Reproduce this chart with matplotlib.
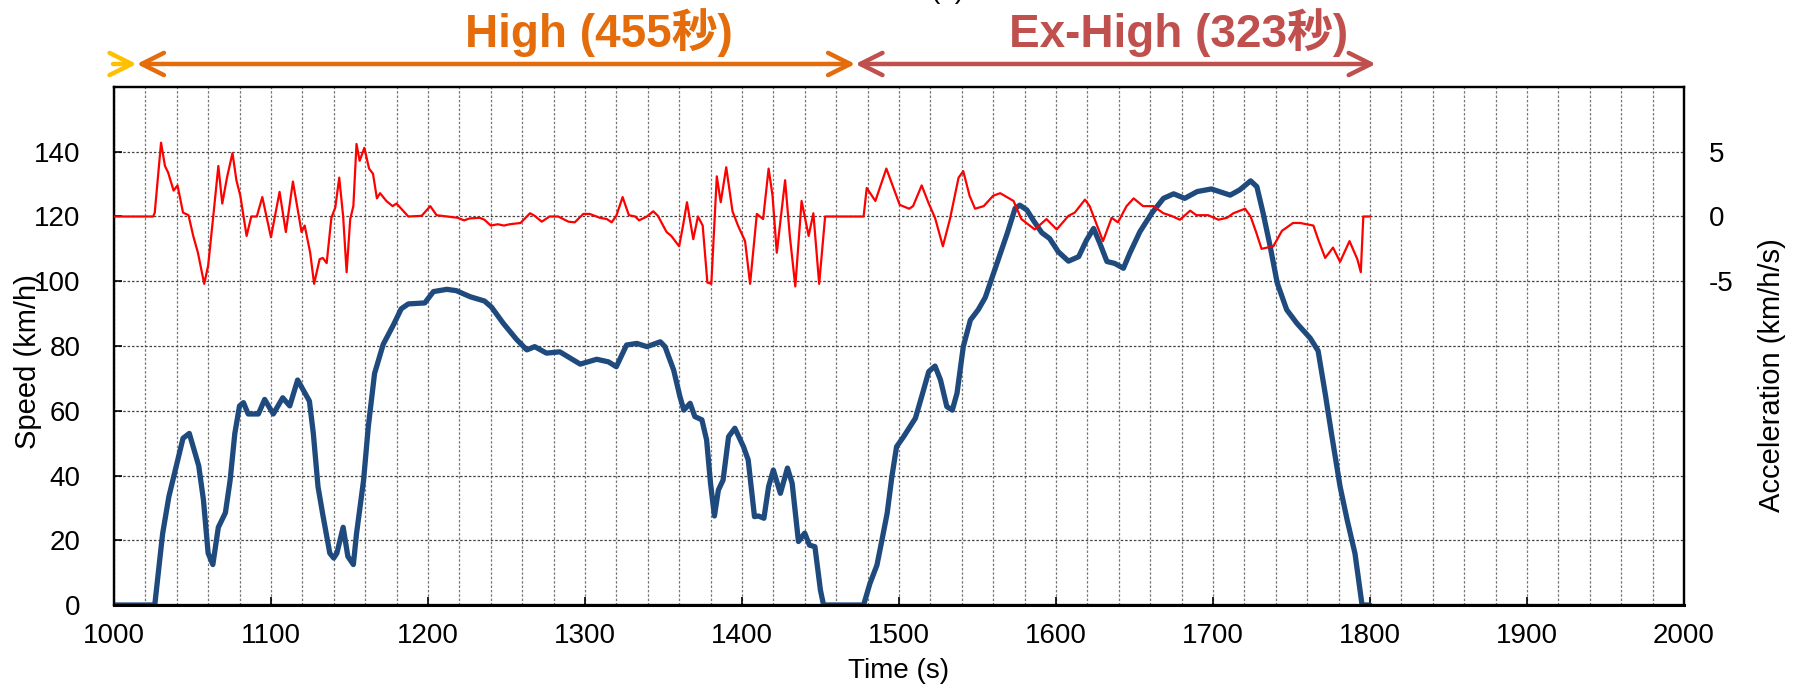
import numpy as np
import matplotlib
matplotlib.use("Agg")
import matplotlib.pyplot as plt

plt.rcParams['font.family'] = ['Liberation Sans', 'DejaVu Sans']
plt.rcParams['axes.unicode_minus'] = False

# speed trace (km/h), WLTP high + extra-high part
t_speed = [1000, 1026, 1031, 1035, 1039, 1044, 1048, 1054, 1057, 1060, 1063, 1066.5, 1071,
           1074, 1077, 1080, 1082.5, 1085.5, 1092, 1096, 1101.5, 1107.5, 1112, 1117, 1121,
           1124.5, 1127, 1130, 1133, 1137.5, 1140, 1142, 1146, 1149, 1152.5, 1154.5, 1159,
           1162, 1166, 1171.5, 1178, 1183, 1187.5, 1198, 1203.5, 1212, 1218, 1227, 1236,
           1240.5, 1248, 1256.5, 1263, 1268, 1275.5, 1284, 1297, 1307.5, 1315, 1320, 1326.5,
           1333, 1339.5, 1348, 1351, 1356.5, 1360.5, 1363, 1367, 1370, 1374.5, 1377.5, 1380,
           1382.5, 1385, 1388, 1391.5, 1395.5, 1401, 1404, 1408, 1410.5, 1414, 1417, 1420,
           1424.5, 1429, 1432, 1436, 1440, 1443, 1446.5, 1450, 1452, 1477.5, 1481.5, 1486,
           1489, 1492.5, 1495.5, 1498.5, 1503, 1510.5, 1514.5, 1519, 1523, 1526.5, 1530.5,
           1534, 1537, 1541, 1545.5, 1550.5, 1555, 1564.5, 1569, 1574, 1577, 1581.5, 1585.5,
           1591, 1596, 1601.5, 1608, 1614.5, 1619.5, 1624, 1628, 1632.5, 1637.5, 1643, 1647,
           1653.5, 1661, 1668.5, 1675, 1682, 1690, 1699, 1711, 1717, 1724, 1728, 1732, 1736.5,
           1741, 1747, 1753.5, 1762, 1767, 1771.5, 1775.5, 1781, 1785.5, 1790.5, 1795, 1800]
speed = [0, 0, 22, 33.5, 41.5, 51.5, 53, 43, 32.5, 16, 12.5, 24, 28.5,
         38.5, 53, 61.5, 62.5, 59, 59, 63.5, 59, 64, 61.5, 69.5, 66,
         63, 53, 36.5, 28, 16, 14.5, 16, 24, 15, 12.5, 22, 38.5,
         55, 71.5, 80.5, 86.5, 91.5, 93, 93.3, 96.8, 97.5, 97.1, 95.2, 93.9,
         92, 87, 82, 78.8, 79.8, 77.8, 78.2, 74.4, 75.9, 75.1, 73.6, 80.3,
         80.8, 79.8, 81.3, 79.8, 72.6, 64.4, 60.2, 62.3, 58.2, 57.2, 51, 37.6,
         27.5, 35.5, 38.6, 52, 54.6, 48.9, 44.8, 27.3, 27.5, 26.8, 36.6, 41.7,
         34.5, 42.3, 37.6, 19.6, 22.2, 18.5, 18, 4.6, 0, 0, 6.6, 12.3,
         19.6, 28.3, 39.6, 48.9, 52, 57.7, 64.4, 72.1, 73.8, 69.5, 61.3,
         60.2, 65.4, 79.8, 88, 91.2, 95, 108.5, 114.8, 122.5, 123.5, 122, 118.9,
         115, 113.2, 109.1, 106.2, 107.6, 112.7, 116.3, 111.7, 106.1, 105.5, 104, 108.6,
         115.3, 121, 125.6, 127, 125.6, 127.7, 128.5, 126.6, 128.2, 131, 129.2, 121, 110.7,
         99.4, 91.2, 87, 82.4, 78.5, 65.4, 53, 36.6, 26.3, 15.9, 0, 0]

# acceleration trace (km/h/s)
t_acc = [1000, 1025, 1026, 1030, 1032.5, 1034.5, 1038, 1040.5, 1044, 1047.5, 1050.5, 1053.5,
         1057.5, 1060, 1063.5, 1066.5, 1069, 1072, 1075.5, 1078, 1080.5, 1084.5, 1087.5,
         1091, 1094.5, 1100, 1105.5, 1109.5, 1114, 1119.5, 1121.5, 1125, 1127.5, 1131, 1133,
         1135.5, 1138.5, 1141, 1143.5, 1146, 1148.2, 1150.5, 1152.5, 1154.5, 1156.5, 1159.5,
         1162.5, 1165, 1167.5, 1169.5, 1173.5, 1177.5, 1180, 1184.5, 1187.5, 1196, 1201.5,
         1205.5, 1212, 1219, 1223, 1226.5, 1233, 1236, 1240, 1244.5, 1248.5, 1252, 1259,
         1265, 1268, 1272.5, 1277.5, 1283, 1289.5, 1293.5, 1299, 1303, 1309.5, 1314, 1317,
         1320, 1324, 1328, 1332, 1334.5, 1339.5, 1343.5, 1346.5, 1352, 1355, 1360, 1362.5,
         1365, 1369, 1372, 1375, 1378, 1380.5, 1384, 1386.5, 1390, 1394, 1397.5, 1402,
         1405.2, 1409.5, 1413.5, 1417, 1419.5, 1422.2, 1427.5, 1430.5, 1434, 1438, 1442.5,
         1445.5, 1449.2, 1453, 1477.5, 1479.5, 1485, 1492, 1500.5, 1506.5, 1509, 1514.5,
         1519, 1523, 1528, 1532.5, 1538, 1541, 1545, 1548.5, 1554, 1560, 1564.5, 1573,
         1578, 1586.5, 1594, 1600.5, 1608, 1612, 1618.5, 1621.5, 1630, 1635.5, 1639.5, 1645,
         1649.5, 1655.5, 1662, 1668.5, 1673.5, 1679, 1685.5, 1689.5, 1697, 1703.5, 1709,
         1713, 1720.5, 1724, 1727.5, 1731, 1734.5, 1738.5, 1744, 1747, 1751, 1755.5, 1764,
         1767, 1771.5, 1776.5, 1781, 1787, 1792, 1794.2, 1795.8, 1800]
acc = [0, 0, 0.3, 5.7, 3.9, 3.4, 2.0, 2.4, 0.3, 0.1, -1.5, -2.8,
       -5.2, -3.8, 0.3, 3.9, 1.0, 3.0, 4.9, 2.8, 1.6, -1.5, 0,
       0, 1.5, -1.6, 1.9, -1.2, 2.7, -1.2, -0.7, -2.8, -5.2, -3.3, -3.2,
       -3.6, -0.1, 0.7, 3.0, 0, -4.3, -0.2, 0.8, 5.6, 4.3, 5.3,
       3.7, 3.3, 1.4, 1.8, 1.2, 0.8, 1.0, 0.4, 0, 0.05, 0.8,
       0.1, 0, -0.1, -0.3, -0.15, -0.1, -0.25, -0.7, -0.6, -0.7, -0.6, -0.5,
       0.25, 0.05, -0.4, 0, 0, -0.4, -0.45, 0.2, 0.2, -0.1, -0.2, -0.45,
       0.05, 1.5, 0.1, 0, -0.3, 0, 0.4, 0.05, -1.2, -1.5, -2.3, -0.7,
       1.1, -1.75, 0, -0.7, -5.1, -5.2, 3.1, 1.1, 3.8, 0.4, -0.7, -1.9,
       -5.2, 0.2, -0.2, 3.7, 1.6, -2.8, 2.8, -1.5, -5.4, 1.2, -1.5,
       0.25, -5.2, 0, 0, 2.2, 1.2, 3.7, 0.9, 0.6, 0.8, 2.4,
       1.0, -0.1, -2.3, -0.2, 3.0, 3.5, 1.6, 0.6, 0.8, 1.6, 1.8, 1.2,
       -0.2, -1.0, -0.2, -1.0, 0.05, 0.3, 1.3, 0.8, -1.9, -0.1, -0.45, 0.8,
       1.4, 0.8, 0.8, 0.25, 0.05, -0.25, 0.45, 0.1, 0.1, -0.25, -0.1,
       0.25, 0.6, 0, -1.2, -2.5, -2.4, -2.3, -1.1, -0.85, -0.5, -0.5, -0.7,
       -1.75, -3.2, -2.4, -3.5, -1.9, -3.3, -4.3, 0, 0]

x_ticks = np.arange(1000, 2001, 100)
speed_ticks = np.arange(0, 141, 20)
acc_ticks = [-5, 0, 5]

# phase arrows (s) and labels
phases = [("High (455秒)", 1014.5, 1472.2, '#E46C0A', 1309),
          ("Ex-High (323秒)", 1472.2, 1803.8, '#C0504D', 1678)]

fig = plt.figure(figsize=(18, 6.92), dpi=100)
ax = fig.add_axes([0.0633, 0.1257, 0.8722, 0.7486])

ax.plot(t_speed, speed, color='#1F4A7D', lw=3.8, solid_joinstyle='round',
        solid_capstyle='round', zorder=3)
ax.set_xlim(1000, 2000)
ax.set_ylim(0, 160)
ax.set_xticks(x_ticks)
ax.set_xticks(np.arange(1000, 2001, 20), minor=True)
ax.set_yticks(speed_ticks)
ax.grid(which='both', axis='x', color='#777777', lw=0.9, ls=(0, (2, 1.5)))
ax.grid(which='major', axis='y', color='#444444', lw=0.9, ls=(0, (2, 1.5)))
ax.tick_params(axis='x', which='major', direction='in', length=6, width=1.2,
               labelsize=20, pad=13, top=False)
ax.tick_params(axis='x', which='minor', length=0)
ax.tick_params(axis='y', direction='in', length=6, width=1.2, labelsize=20, pad=24)
for s in ax.spines.values():
    s.set_linewidth(1.6)
ax.spines['bottom'].set_linewidth(2.2)

ax.set_xlabel('Time (s)', fontsize=20, va='center')
ax.xaxis.set_label_coords(0.5, -0.128)
ax.set_ylabel('Speed (km/h)', fontsize=21, va='center')
ax.yaxis.set_label_coords(-0.0548, 0.469)

ax2 = ax.twinx()
ax2.plot(t_acc, acc, color='#FF0000', lw=1.6, solid_joinstyle='round', zorder=4)
ax2.set_ylim(-30, 10)
ax2.set_yticks(acc_ticks)
ax2.tick_params(axis='y', direction='in', length=0, labelsize=20, pad=18)
ax2.set_ylabel('Acceleration (km/h/s)', fontsize=21, va='center')
ax2.yaxis.set_label_coords(1.056, 0.444)
for s in ax2.spines.values():
    s.set_linewidth(1.6)

# phase arrows above the plot
trans = ax.get_xaxis_transform()
arrow_y = 1.0444
ax.annotate('', xy=(1014.5, arrow_y), xytext=(999.4, arrow_y), xycoords=trans,
            textcoords=trans, annotation_clip=False,
            arrowprops=dict(arrowstyle='->,head_length=16,head_width=8', mutation_scale=1,
                            color='#FFC000', lw=3.2, shrinkA=0, shrinkB=0))
title_font = ['Liberation Sans', 'Noto Sans CJK JP']
for label, start, end, col, tx in phases:
    ax.annotate('', xy=(end, arrow_y), xytext=(start, arrow_y), xycoords=trans,
                textcoords=trans, annotation_clip=False,
                arrowprops=dict(arrowstyle='<->,head_length=16,head_width=8',
                                mutation_scale=1, color=col, lw=3.2, shrinkA=0, shrinkB=0))
    ax.text(tx, 1.077, label, transform=trans, ha='center', va='baseline',
            fontsize=33, fontweight='bold', color=col, family=title_font, clip_on=False)

# partly cut-off panel tag at the very top
fig.text(947 / 1800, 1.003, '(b)', ha='center', va='baseline', fontsize=20)

fig.savefig('out.png', dpi=100)
